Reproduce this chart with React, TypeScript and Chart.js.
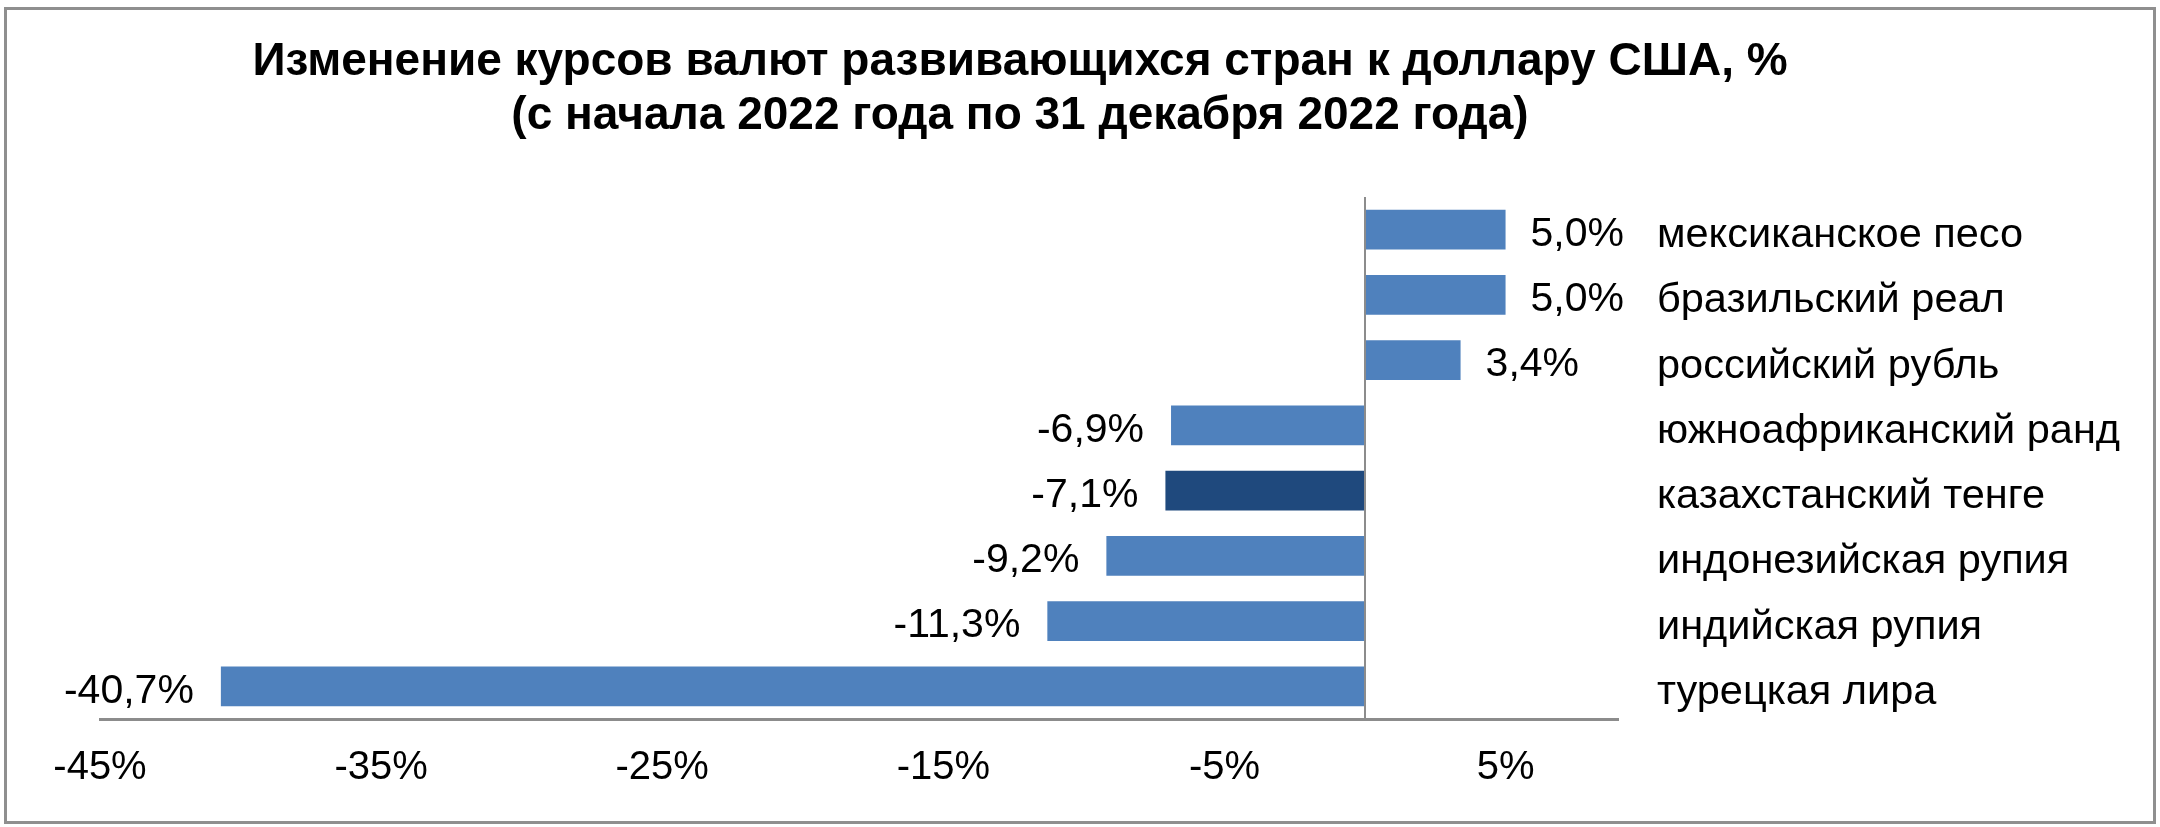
import { useRef, useEffect } from "react";
import { Chart, registerables, type Plugin } from "chart.js";

Chart.register(...registerables);

const CURRENCIES = [
  "мексиканское песо",
  "бразильский реал",
  "российский рубль",
  "южноафриканский ранд",
  "казахстанский тенге",
  "индонезийская рупия",
  "индийская рупия",
  "турецкая лира",
];
const CHANGES = [5.0, 5.0, 3.4, -6.9, -7.1, -9.2, -11.3, -40.7];
const X_TICKS = [-45, -35, -25, -15, -5, 5];
const TITLE_LINES = [
  "Изменение курсов валют развивающихся стран к доллару США, %",
  "(с начала 2022 года по 31 декабря 2022 года)",
];

const BLUE = "#4F81BD";
const DARK = "#1F497D";
const FONT = "'Liberation Sans', Arial, sans-serif";

const fmt = (v: number) => v.toFixed(1).replace(".", ",") + "%";

// title drawn off-centre like the original
const titlePlugin: Plugin<"bar"> = {
  id: "titleText",
  afterDraw(chart) {
    const { ctx } = chart;
    ctx.save();
    ctx.font = `bold 46px ${FONT}`;
    ctx.fillStyle = "#000";
    ctx.textAlign = "center";
    ctx.textBaseline = "alphabetic";
    ctx.fillText(TITLE_LINES[0], 1020, 75);
    ctx.fillText(TITLE_LINES[1], 1020, 129);
    ctx.restore();
  },
};

const zeroLine: Plugin<"bar"> = {
  id: "zeroLine",
  afterDatasetsDraw(chart) {
    const { ctx, chartArea } = chart;
    const x = chart.scales.x.getPixelForValue(0);
    ctx.save();
    ctx.strokeStyle = "#8c8c8c";
    ctx.lineWidth = 2;
    ctx.beginPath();
    ctx.moveTo(x, chartArea.top);
    ctx.lineTo(x, chartArea.bottom);
    ctx.stroke();
    ctx.restore();
  },
};

const valueLabels: Plugin<"bar"> = {
  id: "valueLabels",
  afterDatasetsDraw(chart) {
    const { ctx } = chart;
    const meta = chart.getDatasetMeta(0);
    ctx.save();
    ctx.font = `41px ${FONT}`;
    ctx.fillStyle = "#000";
    ctx.textBaseline = "middle";
    meta.data.forEach((el, i) => {
      const v = CHANGES[i];
      const { x, y } = el.getProps(["x", "y"], true) as { x: number; y: number };
      if (v >= 0) {
        ctx.textAlign = "left";
        ctx.fillText(fmt(v), x + 25, y + 5);
      } else {
        ctx.textAlign = "right";
        ctx.fillText(fmt(v), x - 27, y + 5);
      }
    });
    ctx.restore();
  },
};

function CurrencyChart() {
  const canvasRef = useRef<HTMLCanvasElement>(null);

  useEffect(() => {
    if (!canvasRef.current) return;
    const chart = new Chart(canvasRef.current, {
      type: "bar",
      data: {
        labels: CURRENCIES,
        datasets: [
          {
            data: CHANGES,
            backgroundColor: CURRENCIES.map((_, i) => (i === 4 ? DARK : BLUE)),
            borderWidth: 0,
            barPercentage: 0.61,
            categoryPercentage: 1,
          },
        ],
      },
      options: {
        indexAxis: "y",
        animation: false,
        responsive: false,
        devicePixelRatio: 1,
        layout: { padding: { left: 100, top: 197, right: 0, bottom: 0 } },
        plugins: {
          legend: { display: false },
          tooltip: { enabled: false },
          title: { display: false },
        },
        scales: {
          x: {
            min: -45,
            max: 9,
            grid: { display: false, drawTicks: false },
            border: { display: true, color: "#8c8c8c", width: 3 },
            afterBuildTicks: (axis) => {
              axis.ticks = X_TICKS.map((value) => ({ value }));
            },
            afterFit: (axis) => {
              axis.height = 108;
            },
            ticks: {
              autoSkip: false,
              maxRotation: 0,
              padding: 25,
              color: "#000",
              font: { family: FONT, size: 40 },
              callback: (v) => `${v}%`,
            },
          },
          y: {
            position: "right",
            grid: { display: false, drawTicks: false },
            border: { display: false },
            afterFit: (axis) => {
              axis.width = 542;
            },
            ticks: {
              padding: 39,
              labelOffset: 6,
              color: "#000",
              font: { family: FONT, size: 41.5 },
            },
          },
        },
      },
      plugins: [zeroLine, valueLabels, titlePlugin],
    });
    return () => chart.destroy();
  }, []);

  return (
    <div style={{ position: "relative", width: 2160, height: 827, background: "#fff" }}>
      <canvas ref={canvasRef} width={2160} height={827} style={{ display: "block" }} />
      <div
        style={{
          position: "absolute",
          left: 4,
          top: 7,
          width: 2146,
          height: 811,
          border: "3px solid #8f8f8f",
          pointerEvents: "none",
        }}
      />
    </div>
  );
}

export default function App() {
  useEffect(() => {
    document.body.style.margin = "0";
  }, []);
  return <CurrencyChart />;
}
